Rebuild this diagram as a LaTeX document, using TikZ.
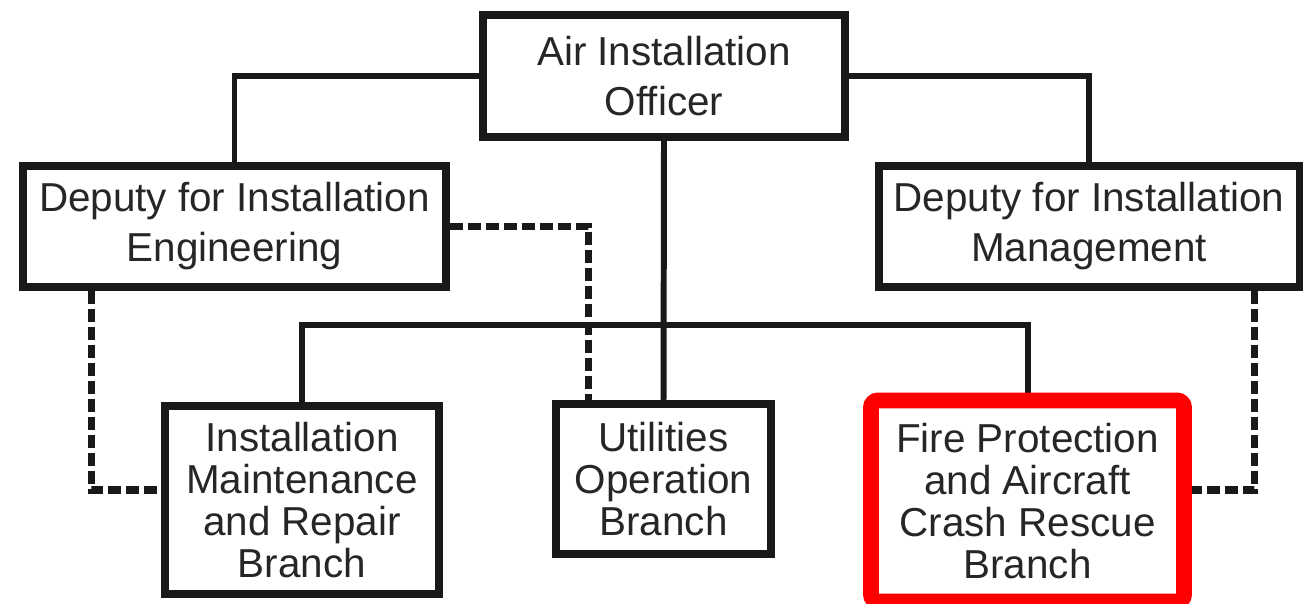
\documentclass[tikz,border=0pt]{standalone}
\usepackage{fontspec}
\setmainfont{Liberation Sans}
\usepackage{tikz}
\usetikzlibrary{calc}

\begin{document}
\begin{tikzpicture}[
  every node/.style={font=\fontsize{23}{28.5}\selectfont, text=black!85},
  unit/.style={draw=black!90, line width=4pt, align=center, inner sep=0pt},
  branch/.style={unit, font=\fontsize{23}{24}\selectfont},
  hilite/.style={draw=red, line width=9pt, rounded corners=4pt, align=center, inner sep=0pt},
  cmd/.style={draw=black!90, line width=3.4pt},
  coord/.style={draw=black!90, line width=4pt, dash pattern=on 0.26cm off 0.1cm}
]
\useasboundingbox (0,0) rectangle (26.24,-12.06);
\node[unit, minimum width=7.24cm, minimum height=2.44cm] (aio) at (13.28,-1.52) {Air Installation\\Officer};
\node[unit, minimum width=8.46cm, minimum height=2.42cm] (deng) at (4.69,-4.53) {Deputy for Installation\\Engineering};
\node[unit, minimum width=8.40cm, minimum height=2.42cm] (dmgt) at (21.78,-4.53) {Deputy for Installation\\Management};
\node[branch, minimum width=5.48cm, minimum height=3.76cm] (imr) at (6.04,-10.0) {Installation\\Maintenance\\and Repair\\Branch};
\node[branch, minimum width=4.30cm, minimum height=3.00cm] (util) at (13.27,-9.58) {Utilities\\Operation\\Branch};
\node[branch, draw=none, minimum width=6.12cm, minimum height=3.88cm] (fire) at (20.55,-10.02) {Fire Protection\\and Aircraft\\Crash Rescue\\Branch};
\coordinate (bus) at (0,-6.5);
% command lines
\draw[cmd] (aio.west) -| (deng.north);
\draw[cmd] (aio.east) -| (dmgt.north);
\draw[cmd] (aio.south) -- (util.north);
\draw[cmd] (imr.north) -- (imr.north |- bus) -| (fire.north);
% coordination lines
\draw[coord] (deng.east) -| ([xshift=0.72cm]util.north west);
\draw[coord] ([xshift=1.44cm]deng.south west) |- ([yshift=0.2cm]imr.west);
\draw[coord] ([xshift=-0.96cm]dmgt.south east) |- ([yshift=0.22cm]fire.east);
% red frame on top
\draw[hilite] (fire.south west) rectangle (fire.north east);
\end{tikzpicture}
\end{document}
